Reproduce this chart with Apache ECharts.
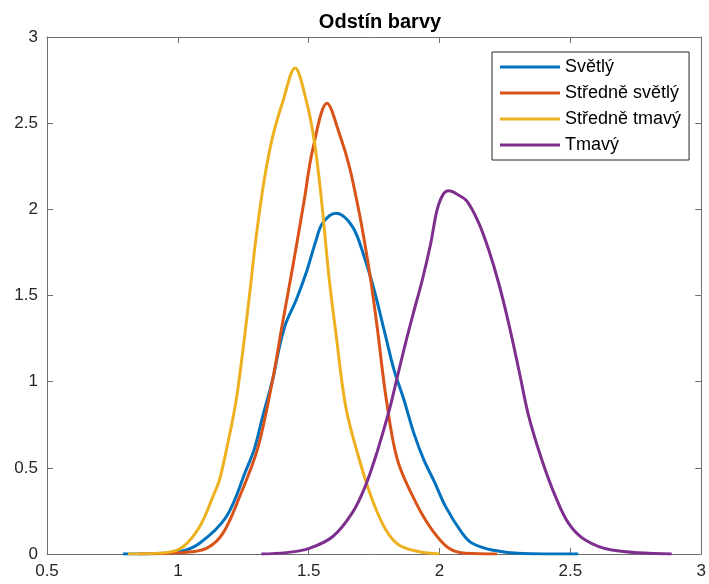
<!DOCTYPE html>
<html>
<head>
<meta charset="utf-8">
<script src="https://cdn.jsdelivr.net/npm/echarts@6/dist/echarts.min.js"></script>
<style>
  html, body { margin: 0; padding: 0; background: #fff; }
  #chart { width: 709px; height: 584px; }
</style>
</head>
<body>
<div id="chart"></div>
<script>
// data
var names = ['Světlý', 'Středně světlý', 'Středně tmavý', 'Tmavý'];
var colors = ['#0072BD', '#D95319', '#EDB120', '#7E2F8E'];
var xTicks = [0.5, 1, 1.5, 2, 2.5, 3];
var yTicks = [0, 0.5, 1, 1.5, 2, 2.5, 3];

var svetlyX = [0.79, 0.90, 1.007, 1.083, 1.185, 1.261, 1.293, 1.324, 1.362, 1.388, 1.413, 1.452, 1.49, 1.528, 1.553, 1.604, 1.667, 1.712, 1.75, 1.788, 1.826, 1.864, 1.902, 1.94, 1.98, 2.023, 2.087, 2.125, 2.2, 2.3, 2.53];
var svetlyY = [0, 0.002, 0.013, 0.062, 0.216, 0.488, 0.613, 0.797, 1.01, 1.20, 1.34, 1.474, 1.63, 1.82, 1.92, 1.977, 1.90, 1.725, 1.532, 1.30, 1.068, 0.894, 0.70, 0.546, 0.42, 0.275, 0.12, 0.062, 0.023, 0.005, 0];

var strSvetlyX = [0.85, 1.02, 1.109, 1.172, 1.236, 1.305, 1.362, 1.40, 1.439, 1.483, 1.515, 1.57, 1.617, 1.655, 1.693, 1.712, 1.737, 1.763, 1.795, 1.839, 1.909, 1.972, 2.036, 2.1, 2.22];
var strSvetlyY = [0, 0.008, 0.033, 0.12, 0.333, 0.613, 1.01, 1.34, 1.667, 2.054, 2.345, 2.616, 2.44, 2.25, 1.98, 1.822, 1.59, 1.30, 0.913, 0.546, 0.30, 0.139, 0.033, 0.004, 0];

var strTmavyX = [0.81, 0.956, 1.02, 1.083, 1.134, 1.159, 1.191, 1.223, 1.25, 1.275, 1.30, 1.33, 1.362, 1.40, 1.448, 1.49, 1.521, 1.547, 1.578, 1.604, 1.642, 1.693, 1.744, 1.795, 1.845, 1.922, 2.0];
var strTmavyY = [0, 0.008, 0.042, 0.158, 0.333, 0.43, 0.643, 0.894, 1.20, 1.52, 1.85, 2.17, 2.42, 2.62, 2.82, 2.635, 2.40, 2.08, 1.60, 1.28, 0.85, 0.55, 0.31, 0.139, 0.052, 0.013, 0];

var tmavyX = [1.319, 1.413, 1.502, 1.591, 1.667, 1.718, 1.763, 1.807, 1.839, 1.871, 1.902, 1.934, 1.966, 1.991, 2.015, 2.036, 2.07, 2.106, 2.15, 2.188, 2.226, 2.264, 2.303, 2.341, 2.391, 2.443, 2.493, 2.557, 2.658, 2.887];
var tmavyY = [0, 0.008, 0.033, 0.10, 0.24, 0.40, 0.60, 0.83, 1.03, 1.23, 1.41, 1.59, 1.80, 2.00, 2.09, 2.108, 2.085, 2.045, 1.92, 1.764, 1.571, 1.339, 1.068, 0.797, 0.546, 0.333, 0.178, 0.081, 0.023, 0];

var allX = [svetlyX, strSvetlyX, strTmavyX, tmavyX];
var allY = [svetlyY, strSvetlyY, strTmavyY, tmavyY];

function pairs(xs, ys) {
  return xs.map(function (x, i) { return [x, ys[i]]; });
}

var font = 'Liberation Sans, Arial, sans-serif';
var axisColor = '#6e6e6e';

var series = names.map(function (name, i) {
  return {
    name: name,
    type: 'line',
    data: pairs(allX[i], allY[i]),
    smooth: 0.35,
    showSymbol: false,
    symbol: 'none',
    lineStyle: { color: colors[i], width: 3 },
    itemStyle: { color: colors[i] },
    z: 2 + i
  };
});

function xAxisDef(pos, showLabels) {
  return {
    type: 'value', position: pos,
    min: xTicks[0], max: xTicks[xTicks.length - 1], interval: 0.5,
    axisLine: { onZero: false, lineStyle: { color: axisColor, width: 1 } },
    axisTick: { inside: true, length: 6, lineStyle: { color: axisColor } },
    axisLabel: { show: showLabels, color: '#262626', fontSize: 17, fontFamily: font, margin: 9 },
    splitLine: { show: false }
  };
}
function yAxisDef(pos, showLabels) {
  return {
    type: 'value', position: pos,
    min: yTicks[0], max: yTicks[yTicks.length - 1], interval: 0.5,
    axisLine: { show: true, onZero: false, lineStyle: { color: axisColor, width: 1 } },
    axisTick: { show: true, inside: true, length: 6, lineStyle: { color: axisColor } },
    axisLabel: { show: showLabels, color: '#262626', fontSize: 17, fontFamily: font, margin: 9 },
    splitLine: { show: false }
  };
}

var chart = echarts.init(document.getElementById('chart'));
chart.setOption({
  animation: false,
  backgroundColor: '#fff',
  title: {
    text: 'Odstín barvy',
    left: 375, top: 7, textAlign: 'center',
    textStyle: { fontFamily: font, fontSize: 20, fontWeight: 'bold', color: '#000' }
  },
  legend: {
    orient: 'vertical',
    left: 492, top: 52,
    padding: [5, 8, 5, 8],
    itemWidth: 60, itemHeight: 3,
    itemGap: 6,
    icon: 'rect',
    backgroundColor: '#fff',
    borderColor: '#262626', borderWidth: 1,
    textStyle: { fontFamily: font, fontSize: 18, color: '#000', lineHeight: 20 },
    data: names
  },
  grid: { left: 47, right: 6, top: 37, bottom: 30, containLabel: false },
  xAxis: [xAxisDef('bottom', true), xAxisDef('top', false)],
  yAxis: [yAxisDef('left', true), yAxisDef('right', false)],
  series: series
});
</script>
</body>
</html>
